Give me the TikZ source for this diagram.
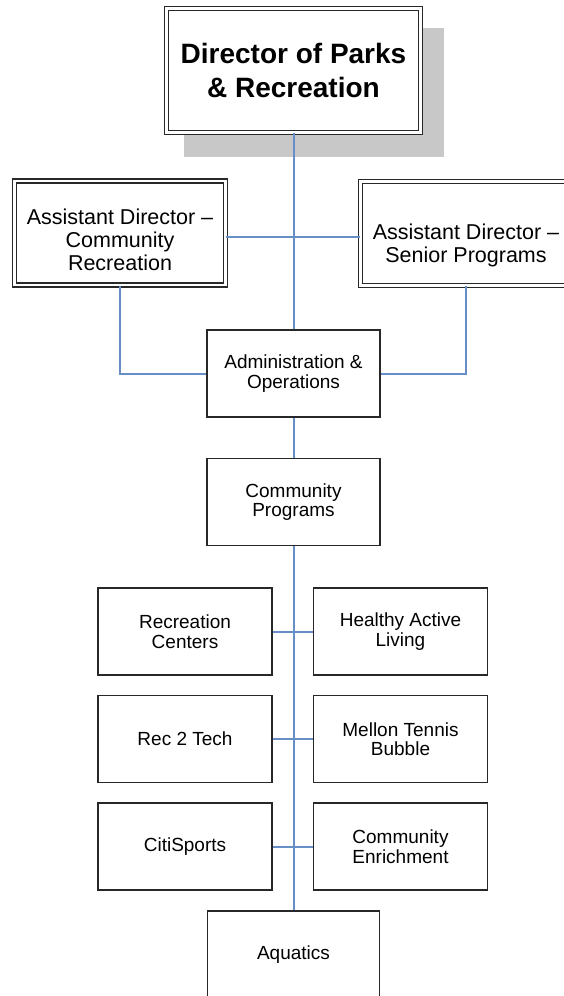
\documentclass[tikz,border=0pt]{standalone}
\usepackage{fontspec}
\setmainfont{Liberation Sans}
\definecolor{connblue}{RGB}{104,142,200}
\definecolor{shadowgray}{RGB}{200,200,200}
\definecolor{edgegray}{RGB}{40,40,40}
\begin{document}
\begin{tikzpicture}[x=1pt,y=-1pt,
  box/.style={draw=edgegray, line width=1.5pt, fill=white, align=center, inner sep=0pt,
    font=\fontsize{19}{19.5}\selectfont, minimum width=174pt, minimum height=87pt},
  dbox/.style={draw=edgegray, double=white, double distance=2.6pt, line width=1.3pt,
    fill=white, align=center, inner sep=0pt},
  link/.style={draw=connblue, line width=2pt}]
\useasboundingbox (0,0) rectangle (564,996);
\clip (0,0) rectangle (564,996);
% shadow of the top box
\fill[shadowgray] (184,28) rectangle (444,157);
% nodes
\node[dbox, minimum width=254pt, minimum height=124pt,
  font=\fontsize{28}{34}\selectfont\bfseries] (dir) at (293.5,70.5) {Director of Parks\\\& Recreation};
\node[dbox, minimum width=211pt, minimum height=104pt,
  font=\fontsize{21.5}{23}\selectfont] (adl) at (120,233) {\rule{0pt}{30pt}Assistant Director –\\Community\\Recreation};
\node[dbox, minimum width=211pt, minimum height=104pt,
  font=\fontsize{21.5}{23}\selectfont] (adr) at (466,233.5) {\rule{0pt}{40pt}Assistant Director –\\Senior Programs};
\node[box, minimum width=173pt] (adm) at (293.5,373.5) {Administration \&\\Operations};
\node[box, minimum width=173pt] (cp) at (293.5,502) {Community\\Programs};
\node[box] (rc) at (185,631.5) {Recreation\\Centers};
\node[box] (hal) at (400.5,631.5) {Healthy Active\\Living};
\node[box] (r2t) at (185,739) {Rec 2 Tech};
\node[box] (mtb) at (400.5,739) {Mellon Tennis\\Bubble};
\node[box] (cs) at (185,846.5) {CitiSports};
\node[box] (ce) at (400.5,846.5) {Community\\Enrichment};
\node[box, minimum width=172pt] (aq) at (293.5,954.5) {Aquatics};
% connectors
\coordinate (bus) at (293.5,237);
\draw[link] (dir.south) -- (adm.north);
\draw[link] (adl.east |- bus) -- (adr.west |- bus);
\draw[link] (adl.south) |- (adm.west);
\draw[link] (adr.south) |- (adm.east);
\draw[link] (adm.south) -- (cp.north);
\draw[link] (cp.south) -- (aq.north);
\draw[link] (rc.east) -- (hal.west);
\draw[link] (r2t.east) -- (mtb.west);
\draw[link] (cs.east) -- (ce.west);
\end{tikzpicture}
\end{document}
